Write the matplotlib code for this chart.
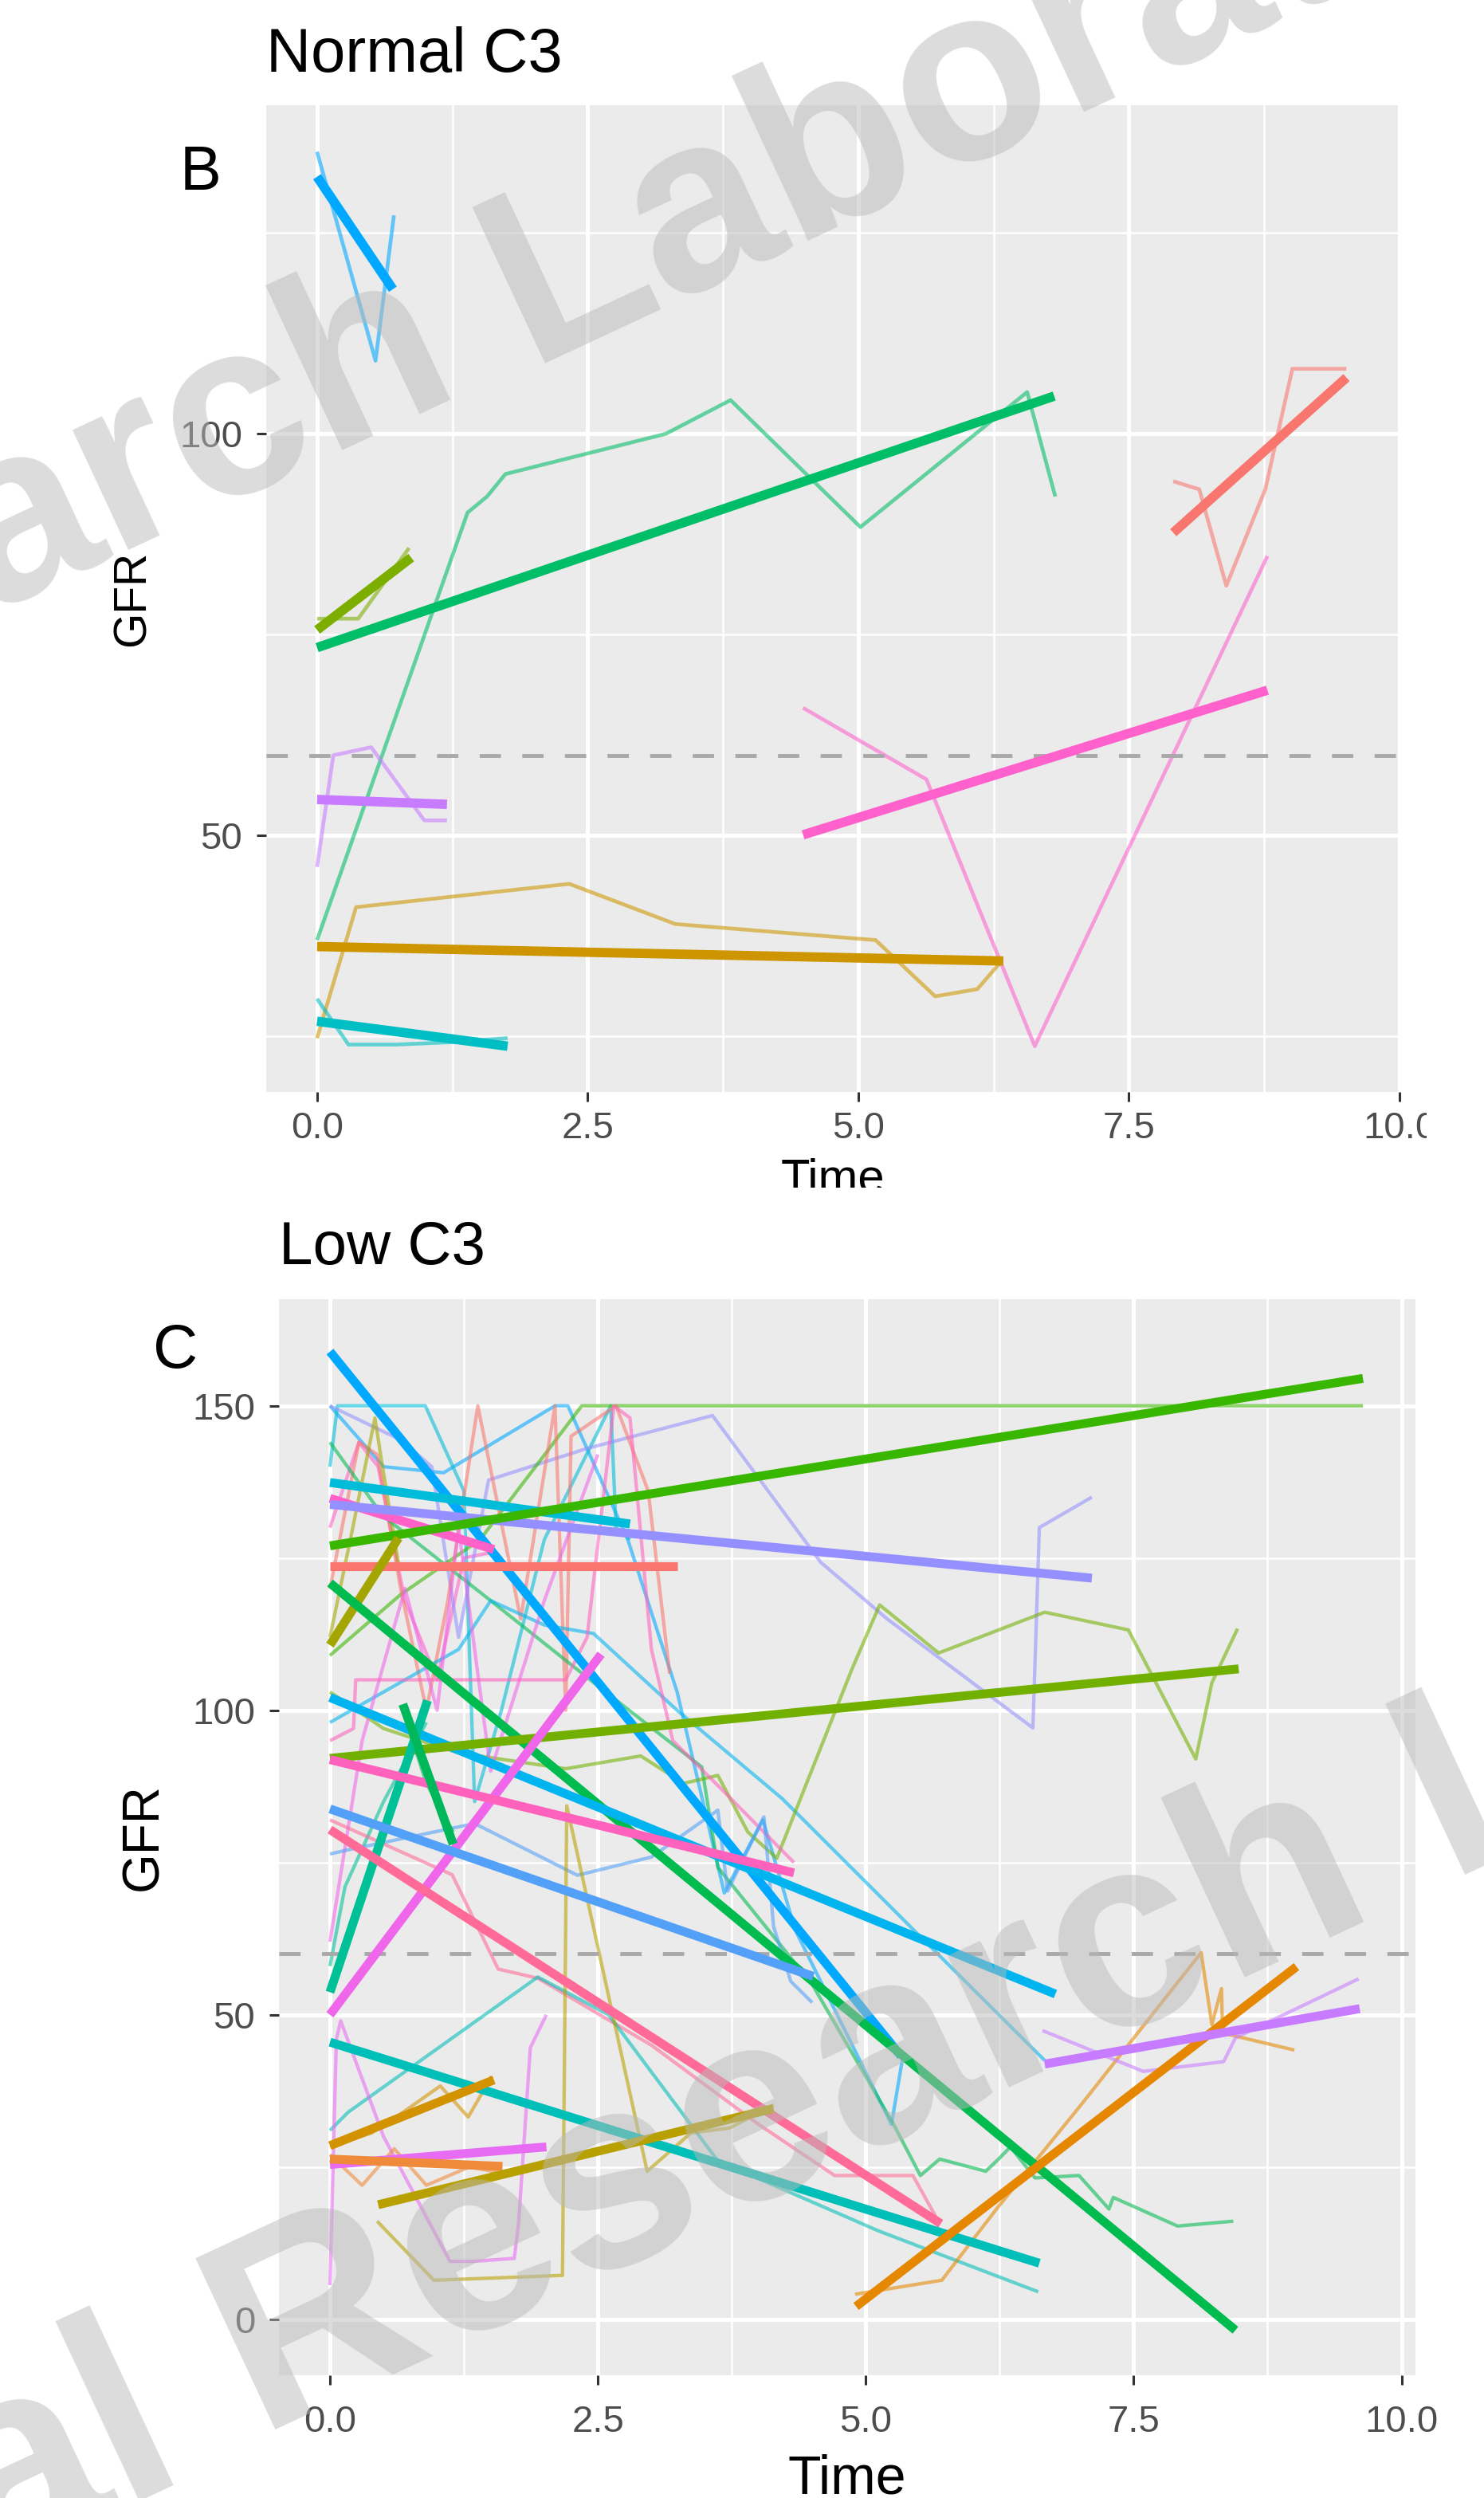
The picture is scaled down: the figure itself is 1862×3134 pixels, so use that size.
import matplotlib
matplotlib.use("Agg")
import matplotlib.pyplot as plt
from matplotlib.transforms import Bbox, TransformedBbox

# ---------------------------------------------------------------------------
# Data: GFR trajectories (thin) and per-patient linear fits (thick)
# ---------------------------------------------------------------------------

# Panel B - Normal C3
normal_colors = ["#F8766D", "#CD9600", "#7CAE00", "#00BE67",
                 "#00BFC4", "#00A9FF", "#C77CFF", "#FF61CC"]
normal_obs_time = [
    [7.91, 8.15, 8.40, 8.76, 9.01, 9.51],
    [0.0, 0.36, 2.33, 3.31, 5.16, 5.71, 6.10, 6.33],
    [0.0, 0.38, 0.85],
    [0.0, 1.39, 1.57, 1.74, 3.22, 3.82, 5.02, 6.56, 6.82],
    [0.0, 0.29, 0.73, 1.25, 1.76],
    [0.0, 0.54, 0.71],
    [0.0, 0.15, 0.50, 0.99, 1.20],
    [4.49, 5.63, 6.63, 8.78],
]
normal_obs_gfr = [
    [94.1, 93.1, 81.1, 93.1, 108.1, 108.1],
    [24.8, 41.1, 44.0, 39.0, 37.0, 30.0, 30.9, 34.5],
    [77.0, 77.0, 85.8],
    [37.0, 90.2, 92.2, 95.0, 100.0, 104.2, 88.4, 105.2, 92.2],
    [29.7, 24.0, 24.0, 24.3, 24.8],
    [135.1, 109.1, 127.2],
    [46.1, 60.0, 61.0, 51.9, 51.9],
    [65.9, 57.0, 23.8, 84.8],
]
normal_fit_time = [[7.91, 9.51], [0.0, 6.34], [0.0, 0.87], [0.0, 6.81],
                   [0.0, 1.76], [0.0, 0.70], [0.0, 1.20], [4.49, 8.78]]
normal_fit_gfr = [[87.7, 107.0], [36.2, 34.4], [75.6, 84.6], [73.4, 104.7],
                  [26.9, 23.8], [132.0, 118.0], [54.5, 53.9], [50.1, 68.1]]

# Panel C - Low C3
low_colors = ["#00A9FF", "#00BCD8", "#FF61C9", "#9590FF", "#39B600", "#F8766D",
              "#A3A500", "#00BB4E", "#00B4EF", "#72B000", "#00C097", "#F066EA",
              "#FF62BC", "#52A0F8", "#FF6A98", "#00BFB8", "#D39200", "#E76BF3",
              "#EF8A3A", "#B8A000", "#E58700", "#C77CFF", "#00B85A"]
low_obs_time = [
    [0.0, 0.5, 1.06, 2.1, 2.22, 2.78, 3.24, 3.68, 4.04, 4.34, 5.24, 5.35],
    [0.0, 0.07, 0.77, 0.89, 1.25, 1.35, 1.6, 2.0, 2.62, 2.67, 2.8],
    [0.0, 0.27, 0.45, 0.7, 1.0, 1.25, 1.53],
    [0.0, 0.66, 0.95, 1.2, 1.48, 2.4, 3.57, 4.58, 5.2, 6.56, 6.62, 7.11],
    [0.0, 0.66, 1.4, 2.35, 9.64],
    [0.0, 0.27, 0.44, 0.66, 0.9, 1.1, 1.38, 1.78, 2.1, 2.2, 2.25, 2.67, 2.97, 3.17],
    [0.0, 0.19, 0.42, 0.49, 0.64],
    [0.0, 0.49, 1.5, 2.5, 3.47, 3.62, 4.5, 5.26, 5.51, 5.69, 6.12, 6.24, 6.35,
     6.58, 6.99, 7.27, 7.31, 7.91, 8.43],
    [0.0, 0.6, 1.2, 1.5, 2.0, 2.46, 3.24, 4.22, 5.5, 6.67],
    [0.0, 0.5, 1.2, 2.2, 2.9, 3.3, 3.62, 3.9, 4.17, 4.87, 5.13, 5.68, 6.67,
     7.45, 8.08, 8.23, 8.47],
    [0.0, 0.14, 0.5, 0.9],
    [0.0, 0.3, 0.7, 1.0, 1.2, 1.5, 2.0, 2.5],
    [0.0, 0.22, 0.24, 2.2, 2.4, 2.65, 2.8, 3.0, 3.2, 3.6, 4.33],
    [0.0, 0.15, 1.35, 2.31, 3.0, 3.62, 3.71, 4.05, 4.14, 4.30, 4.5],
    [0.0, 1.14, 1.57, 1.94, 3.0, 4.0, 4.71, 5.44, 5.69],
    [0.0, 0.17, 1.94, 2.6, 3.62, 5.12, 6.61],
    [0.0, 0.39, 0.65, 1.03, 1.29, 1.51],
    [0.0, 0.06, 0.1, 0.5, 1.12, 1.34, 1.72, 1.76, 1.87, 2.02],
    [0.0, 0.3, 0.6, 0.9, 1.3, 1.61],
    [0.44, 0.97, 2.17, 2.21, 2.96, 3.37, 3.73, 4.14],
    [4.9, 5.71, 6.22, 7.0, 8.13, 8.23, 8.32, 8.33, 9.0],
    [6.65, 7.59, 8.34, 8.45, 9.6],
    [0.68, 0.9, 1.15],
]
low_obs_gfr = [
    [150, 140, 139, 150, 150, 128, 103, 70, 82, 64, 32, 43.5],
    [140, 150, 150, 150, 136, 85, 100, 128, 150, 130, 128],
    [130, 144, 140, 118, 105, 125, 126],
    [150, 144.4, 140, 112, 137.8, 143, 148.4, 124.3, 115, 97.1, 130, 135],
    [109, 119, 128, 150, 150],
    [120, 144, 142, 120, 100, 118, 150, 115, 150, 100, 145, 150, 136, 106],
    [112, 128, 148, 140, 124],
    [144, 132, 118, 104, 90.7, 74.2, 55, 32, 23.6, 26.3, 24.3, 26.3, 28.3,
     23.2, 23.6, 18.1, 20.0, 15.3, 16.1],
    [98, 104, 110, 118, 114, 112.6, 100, 85.5, 63, 42.5],
    [103, 97, 93, 90.4, 92.5, 88, 89.3, 80, 75.7, 106.7, 117.3, 109.4, 116.1,
     113.2, 92, 104.5, 113.4],
    [58, 71, 85, 98],
    [62, 95, 120, 100, 130, 90, 118, 142],
    [95, 97, 105, 105, 112, 150, 148, 110, 95, 88, 75],
    [76.4, 77, 81.4, 72.9, 75.9, 83.6, 70.3, 82.5, 64.5, 55.5, 52],
    [82, 73, 57.5, 56, 45, 32, 23.6, 23.6, 15.7],
    [31, 34, 56.2, 50, 26, 14.5, 4.5],
    [28.3, 30.6, 33.6, 38.3, 33.2, 39.9],
    [5.6, 46, 49, 30, 9.5, 9.5, 10, 15.7, 44.6, 50],
    [27, 22, 28, 22, 25, 24],
    [16.1, 6.4, 7.2, 84.3, 24.3, 30.6, 31.4, 35.2],
    [4.1, 6.4, 18.1, 35, 60.2, 48.4, 54.3, 47, 44.2],
    [47.4, 40.7, 42.3, 46.2, 55.9],
    [100, 88, 80],
]
low_fit_time = [[0.0, 5.33], [0.0, 2.8], [0.0, 1.53], [0.0, 7.11], [0.0, 9.64],
                [0.0, 3.24], [0.0, 0.64], [0.0, 8.45], [0.0, 6.77], [0.0, 8.48],
                [0.0, 0.91], [0.0, 2.53], [0.0, 4.33], [0.0, 4.51], [0.0, 5.70],
                [0.0, 6.62], [0.0, 1.53], [0.0, 2.02], [0.0, 1.61], [0.45, 4.14],
                [4.91, 9.02], [6.67, 9.61], [0.68, 1.15]]
low_fit_gfr = [[158.9, 43.2], [137.4, 130.6], [134.8, 126.4], [133.8, 121.7],
               [127.0, 154.5], [123.6, 123.6], [110.7, 128.3], [120.9, -1.8],
               [102.1, 53.4], [92.1, 106.8], [53.7, 101.6], [50.0, 109.2],
               [91.9, 73.3], [83.8, 56.3], [80.4, 15.7], [45.5, 9.2],
               [28.5, 39.3], [25.4, 28.3], [26.3, 25.1], [18.8, 34.6],
               [2.1, 57.9], [41.9, 51.0], [101.0, 78.0]]

x_ticks = [0, 2.5, 5, 7.5, 10]
x_tick_labels = ["0.0", "2.5", "5.0", "7.5", "10.0"]
ckd_threshold = 60

# ---------------------------------------------------------------------------
# Layout helpers (pixel positions of the original figure)
# ---------------------------------------------------------------------------

W, H = 1862, 3134
DPI = 100
plt.rcParams["font.family"] = ["Liberation Sans", "DejaVu Sans"]


def px_rect(left, top, right, bottom):
    return [left / W, 1 - bottom / H, (right - left) / W, (bottom - top) / H]


def draw_panel(ax, colors, obs_t, obs_g, fit_t, fit_g, thin_lw, thick_lw):
    for t, g, c in zip(obs_t, obs_g, colors):
        ax.plot(t, g, color=c, lw=thin_lw, alpha=0.58, zorder=2,
                solid_joinstyle="round", solid_capstyle="butt")
    ax.axhline(ckd_threshold, color="#A9A9A9", lw=3.5, dashes=(5.5, 5.5), zorder=2.5)
    for t, g, c in zip(fit_t, fit_g, colors):
        ax.plot(t, g, color=c, lw=thick_lw, zorder=3, solid_capstyle="butt")


def style_panel(ax, xlim, ylim, yticks, yminor, xpad):
    ax.set_facecolor("#EBEBEB")
    for s in ax.spines.values():
        s.set_visible(False)
    ax.set_xlim(*xlim)
    ax.set_ylim(*ylim)
    ax.set_xticks(x_ticks)
    ax.set_xticklabels(x_tick_labels)
    ax.set_xticks([1.25, 3.75, 6.25, 8.75], minor=True)
    ax.set_yticks(yticks)
    ax.set_yticklabels([str(v) for v in yticks])
    ax.set_yticks(yminor, minor=True)
    ax.grid(which="major", color="white", lw=3.6)
    ax.grid(which="minor", color="white", lw=1.8)
    ax.set_axisbelow(True)
    ax.tick_params(which="major", length=8.5, width=2.2, color="#333333",
                   labelcolor="#4D4D4D", labelsize=34)
    ax.tick_params(axis="x", pad=xpad)
    ax.tick_params(axis="y", pad=13)
    ax.tick_params(which="minor", length=0)


fig = plt.figure(figsize=(W / DPI, H / DPI), dpi=DPI)

# ---- Panel B: Normal C3 ----
ax1 = fig.add_axes(px_rect(334, 132, 1756, 1370))
draw_panel(ax1, normal_colors, normal_obs_time, normal_obs_gfr,
           normal_fit_time, normal_fit_gfr, 3.4, 8.5)
style_panel(ax1, (-0.47, 10.0), (18.1, 140.9), [50, 100], [25, 75, 125], 9)
ax1.set_title("Normal C3", loc="left", fontsize=56, pad=30)
ax1.set_xlabel("Time", fontsize=43, va="center")
ax1.xaxis.set_label_coords(0.5, -0.089)
ax1.set_ylabel("GFR", fontsize=41, va="center")
ax1.yaxis.set_label_coords(-0.118, 0.5)

# the original panel was cropped at the bottom and right
clip_time = TransformedBbox(Bbox([[0, 1 - 1490 / H], [1, 1]]), fig.transFigure)
ax1.xaxis.label.set_clip_box(clip_time)
ax1.xaxis.label.set_clip_on(True)
clip_right = TransformedBbox(Bbox([[0, 0], [1790 / W, 1]]), fig.transFigure)
for lab in ax1.get_xticklabels():
    lab.set_clip_box(clip_right)
    lab.set_clip_on(True)

# ---- Panel C: Low C3 ----
ax2 = fig.add_axes(px_rect(350, 1630, 1776, 2980))
draw_panel(ax2, low_colors, low_obs_time, low_obs_gfr,
           low_fit_time, low_fit_gfr, 3.1, 8.0)
style_panel(ax2, (-0.476, 10.13), (-9.2, 167.5), [0, 50, 100, 150],
            [25, 75, 125], 18)
ax2.set_title("Low C3", loc="left", fontsize=55, pad=32)
ax2.set_xlabel("Time", fontsize=49, va="center")
ax2.xaxis.set_label_coords(0.5, -0.0963)
ax2.set_ylabel("GFR", fontsize=46, va="center")
ax2.yaxis.set_label_coords(-0.119, 0.5)

# panel letters
fig.text(226 / W, 1 - 238 / H, "B", fontsize=56, ha="left", va="baseline")
fig.text(192 / W, 1 - 1716 / H, "C", fontsize=56, ha="left", va="baseline")

# ---- watermark ----
wm = dict(fontweight="bold", color="#B9B9B9", alpha=0.5, rotation=25,
          rotation_mode="anchor", va="baseline", zorder=10)
fig.text(663 / W, 1 - 456 / H, "Laboratory", ha="left", fontsize=225, **wm)
fig.text(583 / W, 1 - 493 / H, "Renal Research", ha="right", fontsize=225, **wm)
fig.text(325 / W, 1 - 3058 / H, "Research Laboratory", ha="left", fontsize=248, **wm)
fig.text(238 / W, 1 - 3098 / H, "Renal", ha="right", fontsize=248, **wm)

fig.savefig("out.png", dpi=DPI)
